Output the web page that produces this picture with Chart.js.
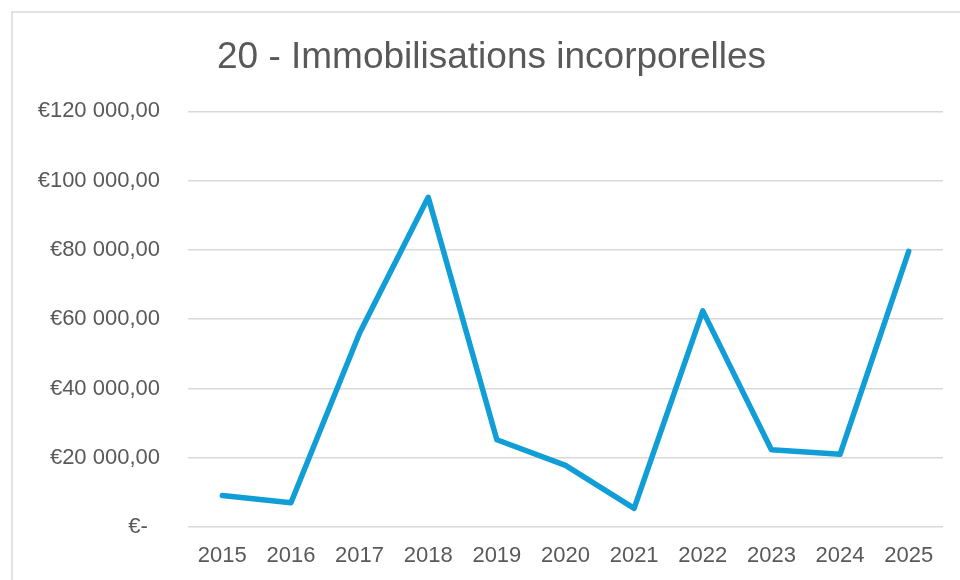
<!DOCTYPE html>
<html>
<head>
<meta charset="utf-8">
<script src="https://cdn.jsdelivr.net/npm/chart.js@4"></script>
<style>
  html, body { margin: 0; padding: 0; background: #fff; }
  #wrap { width: 960px; height: 580px; }
</style>
</head>
<body>
<div id="wrap"><canvas id="mycanvas" width="960" height="580"></canvas></div>
<script>
// data
var years = ['2015', '2016', '2017', '2018', '2019', '2020', '2021', '2022', '2023', '2024', '2025'];
var amounts = [9100, 7000, 56000, 95200, 25200, 17800, 5400, 62400, 22300, 21000, 79600];
var yMin = 0;
var yMax = 120000;
var yStep = 20000;
var chartTitle = '20 - Immobilisations incorporelles';

var textColor = '#595959';
var gridColor = '#d9d9d9';
var fontFamily = '"Liberation Sans", Arial, sans-serif';

function euro(v) {
	if (v === 0) return '€-  ';
	var s = Math.round(v).toString().replace(/\B(?=(\d{3})+(?!\d))/g, ' ');
	return '€' + s + ',00';
}

// outer frame of the chart object, and title centred on that frame
var framePlugin = {
	id: 'frame',
	afterLayout: function(chart) {
		if (chart.titleBlock) chart.titleBlock.left = 40;
	},
	beforeDraw: function(chart) {
		var c = chart.ctx;
		c.save();
		c.strokeStyle = gridColor;
		c.lineWidth = 1.5;
		c.strokeRect(12, 12, 1000, 1000);
		c.restore();
	}
};

var ctx = document.getElementById('mycanvas');

new Chart(ctx, {
	type: 'line',
	data: {
		labels: years,
		datasets: [{
			label: chartTitle,
			data: amounts,
			borderColor: 'rgb(17, 158, 214)',
			backgroundColor: 'rgb(17, 158, 214)',
			borderWidth: 5.5,
			borderJoinStyle: 'round',
			borderCapStyle: 'round',
			pointRadius: 0,
			tension: 0,
			fill: false
		}]
	},
	options: {
		responsive: false,
		animation: false,
		layout: { padding: { left: 22, right: 17, top: 12, bottom: 0 } },
		plugins: {
			legend: { display: false },
			tooltip: { enabled: false },
			title: {
				display: true,
				text: chartTitle,
				color: textColor,
				font: { family: fontFamily, size: 37, weight: 'normal' },
				padding: { top: 24, bottom: 31 }
			}
		},
		scales: {
			x: {
				offset: true,
				afterFit: function(scale) { scale.height = 53; },
				grid: { display: false, drawTicks: false },
				border: { display: false },
				ticks: {
					color: textColor,
					font: { family: fontFamily, size: 22 },
					padding: 16,
					maxRotation: 0
				}
			},
			y: {
				min: yMin,
				max: yMax,
				afterFit: function(scale) { scale.width = 166; },
				grid: { color: gridColor, lineWidth: 1.5, drawTicks: false },
				border: { display: false },
				ticks: {
					stepSize: yStep,
					color: textColor,
					font: { family: fontFamily, size: 22 },
					padding: 28,
					callback: function(v) { return euro(v); }
				}
			}
		}
	},
	plugins: [framePlugin]
});
</script>
</body>
</html>
